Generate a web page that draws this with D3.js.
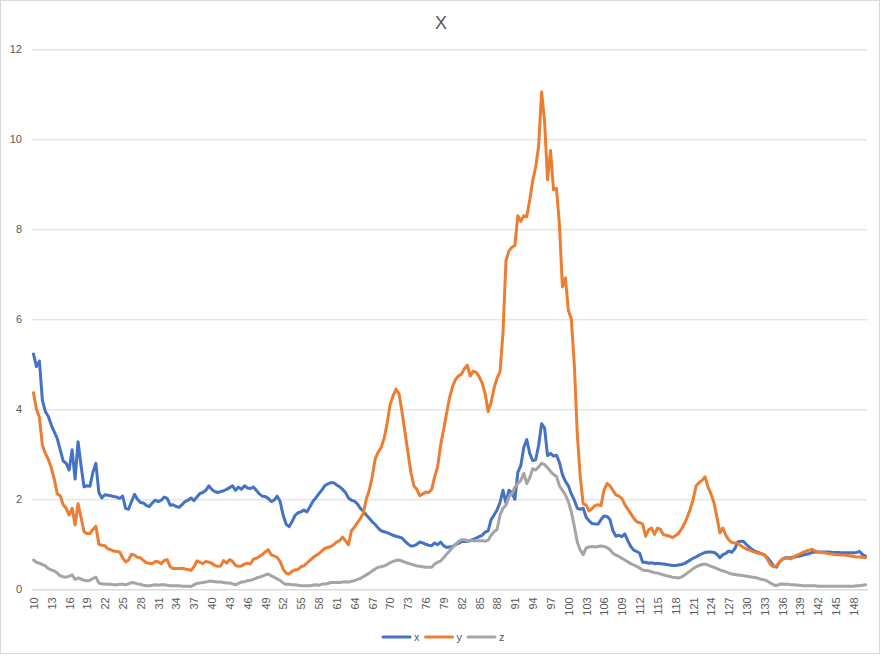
<!DOCTYPE html>
<html>
<head>
<meta charset="utf-8">
<script src="https://cdn.jsdelivr.net/npm/d3@7"></script>
<style>
  body { margin: 0; background: #fff; }
  text { font-family: "Liberation Sans", Arial, sans-serif; fill: #595959; }
</style>
</head>
<body>
<div id="chart"></div>
<script>
// categories go 10, 10.5, 11 ... 150 (label shown every 3 units)
const categories = d3.range(0, 281).map(i => 10 + i / 2);
const tickLabels = [10, 13, 16, 19, 22, 25, 28, 31, 34, 37, 40, 43, 46, 49, 52, 55, 58, 61, 64, 67, 70, 73, 76, 79, 82, 85, 88, 91, 94, 97, 100, 103, 106, 109, 112, 115, 118, 121, 124, 127, 130, 133, 136, 139, 142, 145, 148];
const yTicks = [0, 2, 4, 6, 8, 10, 12];
const seriesNames = ["x", "y", "z"];

const xValues = [
  5.23, 4.95, 5.07, 4.2, 3.95, 3.84, 3.65, 3.5, 3.35, 3.1,
  2.85, 2.8, 2.65, 3.1, 2.45, 3.28, 2.75, 2.28, 2.3, 2.29,
  2.6, 2.8, 2.15, 2.03, 2.1, 2.09, 2.08, 2.06, 2.05, 2.02,
  2.07, 1.8, 1.78, 1.95, 2.11, 2.0, 1.93, 1.92, 1.86, 1.84,
  1.92, 1.98, 1.95, 1.98, 2.05, 2.02, 1.87, 1.88, 1.84, 1.82,
  1.88, 1.95, 1.98, 2.03, 1.97, 2.05, 2.13, 2.15, 2.2, 2.3,
  2.22, 2.17, 2.15, 2.17, 2.19, 2.22, 2.26, 2.3, 2.2, 2.27,
  2.22, 2.3, 2.25, 2.24, 2.27, 2.2, 2.12, 2.07, 2.06, 2.02,
  1.95, 1.98, 2.07, 1.95, 1.65, 1.45, 1.39, 1.5, 1.64, 1.7,
  1.72, 1.76, 1.72, 1.83, 1.95, 2.03, 2.12, 2.2, 2.3, 2.34,
  2.37, 2.37, 2.32, 2.28, 2.22, 2.15, 2.03, 1.98, 1.96, 1.9,
  1.8, 1.73, 1.65, 1.58, 1.5, 1.44, 1.36, 1.3, 1.28, 1.26,
  1.23, 1.2, 1.18, 1.16, 1.14, 1.07, 1.01, 0.96, 0.97, 1.0,
  1.05, 1.03, 1.0, 0.98, 0.97, 1.03, 0.99, 1.05, 0.97, 0.93,
  0.94, 0.95, 0.99, 1.02, 1.06, 1.06, 1.07, 1.08, 1.11, 1.14,
  1.17, 1.2, 1.27, 1.3, 1.55, 1.65, 1.76, 1.93, 2.2, 1.92,
  2.2, 2.15, 2.0, 2.6, 2.75, 3.15, 3.33, 3.02, 2.86, 2.88,
  3.2, 3.68, 3.58, 2.97, 3.02, 2.96, 2.98, 2.82, 2.55, 2.4,
  2.3, 2.12, 1.98, 1.8, 1.78, 1.8, 1.6, 1.52, 1.46, 1.45,
  1.45, 1.55, 1.63, 1.62, 1.55, 1.3, 1.18, 1.2, 1.17, 1.23,
  1.08, 0.95, 0.87, 0.84, 0.8, 0.6, 0.6, 0.58, 0.59, 0.57,
  0.58, 0.57, 0.56, 0.55, 0.54, 0.53, 0.53, 0.54, 0.55, 0.57,
  0.61, 0.65, 0.69, 0.72, 0.76, 0.79, 0.82, 0.83, 0.83, 0.82,
  0.78, 0.7, 0.77, 0.8, 0.85, 0.82, 0.9, 1.05, 1.07, 1.06,
  0.99, 0.93, 0.88, 0.84, 0.82, 0.79, 0.76, 0.7, 0.62, 0.52,
  0.49, 0.6, 0.67, 0.7, 0.7, 0.7, 0.72, 0.73, 0.74, 0.76,
  0.78, 0.79, 0.82, 0.83, 0.83, 0.83, 0.83, 0.83, 0.83, 0.82,
  0.82, 0.82, 0.81, 0.81, 0.81, 0.81, 0.81, 0.82, 0.84, 0.77,
  0.74
];

const yValues = [
  4.37, 4.0, 3.82, 3.2, 3.02, 2.88, 2.7, 2.45, 2.12, 2.08,
  1.88, 1.8, 1.65, 1.8, 1.43, 1.9, 1.6, 1.28, 1.24, 1.24,
  1.33, 1.4, 1.0, 0.98, 0.97, 0.9, 0.88, 0.85, 0.84, 0.83,
  0.7, 0.61, 0.65, 0.78, 0.76, 0.71, 0.7, 0.64, 0.59, 0.58,
  0.57, 0.62, 0.61, 0.57, 0.64, 0.66, 0.5, 0.46, 0.46, 0.46,
  0.47, 0.45, 0.44, 0.42, 0.5, 0.63, 0.6, 0.57, 0.62, 0.6,
  0.58, 0.53, 0.51, 0.52, 0.64, 0.58, 0.66, 0.62, 0.53, 0.51,
  0.52, 0.56, 0.58, 0.56, 0.67, 0.69, 0.73, 0.77, 0.83, 0.88,
  0.77, 0.74, 0.71, 0.62, 0.45, 0.36, 0.34, 0.4, 0.43, 0.44,
  0.5, 0.52, 0.58, 0.64, 0.7, 0.75, 0.79, 0.85, 0.91, 0.93,
  0.95, 0.99, 1.05, 1.08, 1.16, 1.08, 0.99, 1.3, 1.38, 1.48,
  1.57, 1.69, 2.0, 2.2, 2.5, 2.9, 3.05, 3.15, 3.35, 3.68,
  4.1, 4.3, 4.45, 4.35, 3.95, 3.5, 3.05, 2.6, 2.3, 2.22,
  2.08, 2.12, 2.16, 2.15, 2.22, 2.5, 2.72, 3.2, 3.54, 3.9,
  4.25, 4.5, 4.66, 4.74, 4.78, 4.9, 4.98, 4.74, 4.85, 4.82,
  4.72, 4.58, 4.35, 3.95, 4.15, 4.47, 4.69, 4.83, 5.7, 7.3,
  7.52, 7.6, 7.64, 8.3, 8.18, 8.3, 8.28, 8.65, 9.08, 9.38,
  9.85, 11.05, 10.4, 9.1, 9.75, 8.88, 8.91, 8.1, 6.72, 6.92,
  6.2, 6.0, 5.0, 3.45, 2.5, 1.9, 1.87, 1.74, 1.8, 1.86,
  1.88, 1.86, 2.2, 2.35, 2.3, 2.2, 2.1, 2.07, 2.02, 1.88,
  1.78, 1.68, 1.58, 1.5, 1.48, 1.45, 1.18, 1.32, 1.36, 1.22,
  1.36, 1.33, 1.21, 1.2, 1.18, 1.15, 1.19, 1.24, 1.33, 1.45,
  1.6, 1.78, 2.0, 2.3, 2.37, 2.42, 2.5, 2.27, 2.12, 1.93,
  1.6, 1.25, 1.36, 1.2, 1.1, 1.04, 1.03, 1.02, 0.97, 0.93,
  0.89, 0.87, 0.84, 0.82, 0.8, 0.79, 0.77, 0.66, 0.55, 0.5,
  0.52, 0.6, 0.67, 0.69, 0.69, 0.68, 0.72, 0.76, 0.79, 0.82,
  0.85, 0.87, 0.89, 0.85, 0.83, 0.82, 0.81, 0.8, 0.79, 0.78,
  0.77, 0.77, 0.76, 0.76, 0.75, 0.74, 0.73, 0.72, 0.72, 0.71,
  0.7
];

const zValues = [
  0.65, 0.6, 0.58, 0.55, 0.52, 0.46, 0.43, 0.41, 0.36, 0.3,
  0.28, 0.27, 0.29, 0.32, 0.22, 0.25, 0.23, 0.2, 0.19, 0.2,
  0.24, 0.27, 0.14, 0.12, 0.12, 0.11, 0.11, 0.1, 0.1, 0.11,
  0.11, 0.1, 0.12, 0.15, 0.14, 0.12, 0.11, 0.09, 0.08, 0.08,
  0.09, 0.1, 0.09, 0.1, 0.1, 0.09, 0.08, 0.08, 0.08, 0.08,
  0.07, 0.07, 0.07, 0.06, 0.1, 0.13, 0.14, 0.15, 0.16, 0.18,
  0.18, 0.17, 0.16, 0.16, 0.15, 0.14, 0.14, 0.12, 0.1, 0.13,
  0.16, 0.17, 0.19, 0.2, 0.22, 0.25, 0.27, 0.29, 0.32, 0.34,
  0.3, 0.27, 0.23, 0.2, 0.14, 0.11, 0.11, 0.1, 0.1, 0.09,
  0.08, 0.08, 0.08, 0.08, 0.09, 0.1, 0.09, 0.11, 0.12, 0.13,
  0.15, 0.15, 0.15, 0.15, 0.16, 0.17, 0.16, 0.18, 0.19, 0.22,
  0.24, 0.28, 0.32, 0.36, 0.41, 0.45, 0.49, 0.5, 0.52, 0.55,
  0.59, 0.62, 0.64, 0.65, 0.63, 0.6, 0.58, 0.56, 0.54, 0.52,
  0.51, 0.5, 0.49, 0.49, 0.49, 0.56, 0.6, 0.63, 0.7, 0.78,
  0.85, 0.93, 1.0, 1.06, 1.1, 1.1, 1.08, 1.08, 1.08, 1.08,
  1.08, 1.08, 1.07, 1.09, 1.2, 1.28, 1.33, 1.65, 1.8, 1.87,
  2.05, 2.12, 2.27, 2.35, 2.42, 2.58, 2.35, 2.48, 2.68, 2.65,
  2.72, 2.8, 2.77, 2.7, 2.62, 2.55, 2.51, 2.3, 2.2, 2.1,
  1.95, 1.72, 1.4, 1.05, 0.87, 0.77, 0.92, 0.94, 0.95, 0.94,
  0.95, 0.96, 0.95, 0.93, 0.88, 0.8, 0.76, 0.73, 0.69, 0.65,
  0.61, 0.57, 0.54, 0.51, 0.47, 0.43, 0.42, 0.41, 0.39, 0.37,
  0.36, 0.34, 0.32, 0.3, 0.29, 0.27, 0.26, 0.25, 0.27, 0.31,
  0.36, 0.41, 0.46, 0.5, 0.53, 0.55, 0.56, 0.54, 0.51, 0.49,
  0.46, 0.43, 0.41, 0.39, 0.36, 0.34, 0.33, 0.32, 0.31, 0.3,
  0.29, 0.28, 0.27, 0.26, 0.24, 0.22, 0.21, 0.18, 0.14, 0.1,
  0.08, 0.11, 0.12, 0.11, 0.11, 0.1, 0.1, 0.09, 0.09, 0.08,
  0.08, 0.08, 0.08, 0.08, 0.07, 0.07, 0.07, 0.07, 0.07, 0.07,
  0.07, 0.07, 0.07, 0.07, 0.07, 0.07, 0.07, 0.08, 0.08, 0.09,
  0.1
];

const width = 882;
const height = 656;
const plot = { left: 32, right: 867, top: 49.3, bottom: 589.3 };

const color = d3.scaleOrdinal()
  .domain(seriesNames)
  .range(["#4472c4", "#ed7d31", "#a5a5a5"]);

const x = d3.scalePoint()
  .domain(categories)
  .range([plot.left, plot.right])
  .padding(0.5);

const y = d3.scaleLinear()
  .domain([0, 12])
  .range([plot.bottom, plot.top]);

const svg = d3.select("#chart")
  .append("svg")
  .attr("width", width)
  .attr("height", height);

svg.append("rect")
  .attr("x", 0.5).attr("y", 0.5)
  .attr("width", 879).attr("height", 653)
  .attr("fill", "#fff")
  .attr("stroke", "#d9d9d9");

// title
svg.append("text")
  .attr("x", 441)
  .attr("y", 29)
  .attr("text-anchor", "middle")
  .style("font-size", "18px")
  .text("X");

// grid + y labels
const yAxis = d3.axisLeft(y)
  .tickValues(yTicks)
  .tickSize(-(plot.right - plot.left))
  .tickPadding(10)
  .tickFormat(d3.format("d"));

const gy = svg.append("g")
  .attr("transform", `translate(${plot.left},0)`)
  .call(yAxis);
gy.select(".domain").remove();
gy.selectAll(".tick line").attr("stroke", "#d9d9d9");
gy.selectAll(".tick text")
  .attr("fill", "#595959")
  .style("font-size", "11px")
  .style("font-family", "'Liberation Sans', Arial, sans-serif");

// x labels, rotated
const xAxis = d3.axisBottom(x)
  .tickValues(tickLabels)
  .tickSize(0)
  .tickFormat(d3.format("d"));

const gx = svg.append("g")
  .attr("transform", `translate(0,${plot.bottom})`)
  .call(xAxis);
gx.select(".domain").attr("stroke", "#d9d9d9");
gx.selectAll(".tick text")
  .attr("fill", "#595959")
  .style("font-size", "11px")
  .style("font-family", "'Liberation Sans', Arial, sans-serif")
  .attr("text-anchor", "end")
  .attr("transform", "rotate(-90)")
  .attr("x", -8)
  .attr("y", 0)
  .attr("dy", "0.35em");

// lines
const series = [
  { name: "x", values: xValues },
  { name: "y", values: yValues },
  { name: "z", values: zValues }
];

const line = d3.line()
  .x((d, i) => x(categories[i]))
  .y(d => y(d));

svg.append("g")
  .selectAll("path")
  .data(series)
  .join("path")
  .attr("fill", "none")
  .attr("stroke", d => color(d.name))
  .attr("stroke-width", 3)
  .attr("stroke-linejoin", "round")
  .attr("stroke-linecap", "round")
  .attr("d", d => line(d.values));

// legend
const legend = svg.append("g")
  .attr("transform", "translate(383,637)");

const item = legend.selectAll("g")
  .data(seriesNames)
  .join("g")
  .attr("transform", (d, i) => `translate(${i * 42.5},0)`);

item.append("line")
  .attr("x1", 0).attr("x2", 27)
  .attr("stroke", d => color(d))
  .attr("stroke-width", 3)
  .attr("stroke-linecap", "round");

item.append("text")
  .attr("x", 31)
  .attr("dy", "0.35em")
  .style("font-size", "11px")
  .text(d => d);
</script>
</body>
</html>
